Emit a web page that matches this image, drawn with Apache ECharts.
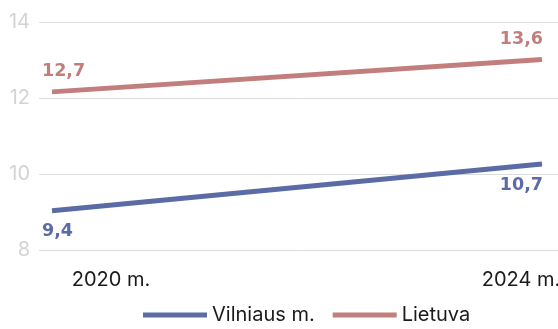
<!DOCTYPE html>
<html>
<head>
<meta charset="utf-8">
<script src="https://cdn.jsdelivr.net/npm/echarts@6/dist/echarts.min.js"></script>
<style>html,body{margin:0;padding:0;background:#fff}#c{width:558px;height:329px}</style>
</head>
<body>
<div id="c"></div>
<script>
const categories = ['2020 m.', '2024 m.'];
const vilnius = [9.4, 10.7];
const lietuva = [12.7, 13.6];
const seriesNames = ['Vilniaus m.', 'Lietuva'];
const yTicks = { min: 8, max: 14, interval: 2 };

const BLUE = '#5b6ba5', ROSE = '#c27e7d';
const FONT = 'Inter';

const chart = echarts.init(document.getElementById('c'), null, { renderer: 'canvas' });

function lbl(color, pos) {
  return {
    show: true,
    color: color,
    fontFamily: 'DejaVu Sans',
    fontWeight: 'bold',
    fontSize: 17.5,
    formatter: p => String(p.value).replace('.', ','),
    position: pos[0],
    align: pos[1],
    offset: pos[2]
  };
}

chart.setOption({
  animation: false,
  grid: [
    { left: 39, right: 0, top: 22, bottom: 79, outerBoundsMode: 'none' },
    { left: 52, right: 16, top: 22, bottom: 79, outerBoundsMode: 'none' }
  ],
  xAxis: [
    { gridIndex: 0, type: 'category', data: categories, show: false },
    {
      gridIndex: 1, type: 'category', data: categories, boundaryGap: false,
      axisLine: { show: false }, axisTick: { show: false },
      axisLabel: {
        margin: 20,
        fontFamily: FONT, fontSize: 20, color: '#1a1a1a',
        formatter: (v, i) => i === 0 ? '{a|' + v + '}' : '{b|' + v + '}',
        rich: {
          a: { fontFamily: FONT, fontSize: 20, color: '#1a1a1a', padding: [0, 0, 0, 118] },
          b: { fontFamily: FONT, fontSize: 20, color: '#1a1a1a', padding: [0, 42, 0, 0] }
        }
      }
    }
  ],
  yAxis: [
    {
      gridIndex: 0, type: 'value', min: yTicks.min, max: yTicks.max, interval: yTicks.interval,
      axisLine: { show: false }, axisTick: { show: false },
      axisLabel: { margin: 9, fontFamily: FONT, fontSize: 20, color: '#d3d3d3' },
      splitLine: { lineStyle: { color: '#dcdcdc', width: 1 } }
    },
    {
      gridIndex: 1, type: 'value', min: 8.31, max: 14.64, show: false,
      splitLine: { show: false }
    }
  ],
  legend: {
    left: 143, top: 305, padding: 0,
    icon: 'rect', itemWidth: 64, itemHeight: 5, itemGap: 18,
    textStyle: { fontFamily: FONT, fontSize: 20, color: '#1a1a1a' },
    data: seriesNames
  },
  series: [
    {
      name: seriesNames[0], type: 'line', xAxisIndex: 1, yAxisIndex: 1,
      symbol: 'circle', symbolSize: 0, showSymbol: true,
      lineStyle: { color: BLUE, width: 5 }, itemStyle: { color: BLUE },
      data: [
        { value: vilnius[0], label: lbl(BLUE, ['bottom', 'left', [-10, 7]]) },
        { value: vilnius[1], label: lbl(BLUE, ['bottom', 'right', [1, 8]]) }
      ]
    },
    {
      name: seriesNames[1], type: 'line', xAxisIndex: 1, yAxisIndex: 1,
      symbol: 'circle', symbolSize: 0, showSymbol: true,
      lineStyle: { color: ROSE, width: 5 }, itemStyle: { color: ROSE },
      data: [
        { value: lietuva[0], label: lbl(ROSE, ['top', 'left', [-10, -6]]) },
        { value: lietuva[1], label: lbl(ROSE, ['top', 'right', [1, -6]]) }
      ]
    }
  ]
});
</script>
</body>
</html>
